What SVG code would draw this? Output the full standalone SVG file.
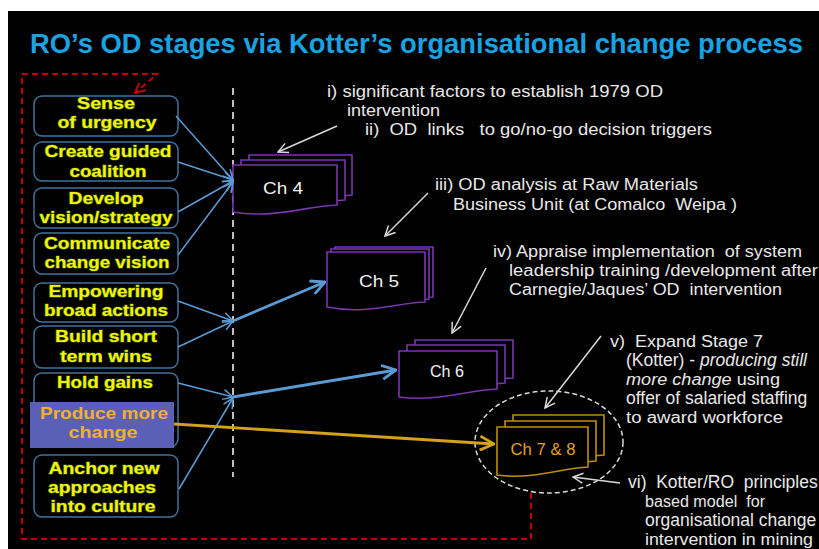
<svg xmlns="http://www.w3.org/2000/svg" width="819" height="549" viewBox="0 0 819 549">
<style>
.stage{fill:#000;stroke:#41719c;stroke-width:1.5}
.yt{font-family:"Liberation Sans",Arial,sans-serif;font-weight:bold;font-size:17px;fill:#f4f400;stroke:#3d5c00;stroke-width:1.2;paint-order:stroke fill;text-anchor:middle}
.ot{font-family:"Liberation Sans",Arial,sans-serif;font-weight:bold;font-size:17px;fill:#f0b030;text-anchor:middle}
.desc{font-family:"Liberation Sans",Arial,sans-serif;font-size:16px;fill:#e8e8e8}
.big{font-size:17.5px}
.doc{fill:#000;stroke:#7a35b0;stroke-width:1.6}
.docg{fill:#000;stroke:#c08f00;stroke-width:1.6}
.cht{font-family:"Liberation Sans",Arial,sans-serif;font-size:16px;fill:#f2f2f2;text-anchor:middle}
.blue{fill:none;stroke:#5b9bd5;stroke-width:1.5}
.bluet{fill:none;stroke:#5b9bd5;stroke-width:2.8}
.gray{fill:none;stroke:#d9d9d9;stroke-width:1.5}
</style>
<defs>
<marker id="ab" viewBox="0 0 12 12" refX="11" refY="6" markerWidth="12" markerHeight="12" markerUnits="userSpaceOnUse" orient="auto"><path d="M1,1 L11,6 L1,11" fill="none" stroke="#5b9bd5" stroke-width="1.5"/></marker>
<marker id="abt" viewBox="0 0 16 16" refX="15" refY="8" markerWidth="16" markerHeight="16" markerUnits="userSpaceOnUse" orient="auto"><path d="M1,1 L15,8 L1,15" fill="none" stroke="#5b9bd5" stroke-width="2.8"/></marker>
<marker id="ag" viewBox="0 0 12 12" refX="11" refY="6" markerWidth="12" markerHeight="12" markerUnits="userSpaceOnUse" orient="auto"><path d="M1,1 L11,6 L1,11" fill="none" stroke="#d9d9d9" stroke-width="1.5"/></marker>
<marker id="ay" viewBox="0 0 16 16" refX="15" refY="8" markerWidth="16" markerHeight="16" markerUnits="userSpaceOnUse" orient="auto"><path d="M1,1 L15,8 L1,15" fill="none" stroke="#d4a21a" stroke-width="2.8"/></marker>
<marker id="ar" viewBox="0 0 12 12" refX="11" refY="6" markerWidth="12" markerHeight="12" markerUnits="userSpaceOnUse" orient="auto"><path d="M1,1 L11,6 L1,11" fill="none" stroke="#c00000" stroke-width="2"/></marker>
</defs>
<rect x="0" y="0" width="819" height="549" fill="#fff"/>
<rect x="8" y="11" width="811" height="538" fill="#000"/>
<text x="30" y="53" font-family="Liberation Sans,Arial,sans-serif" font-weight="bold" font-size="27.5" fill="#19a3e3" textLength="773" lengthAdjust="spacingAndGlyphs">RO’s OD stages via Kotter’s organisational change process</text>

<g id="ellipse78"><ellipse cx="549" cy="442" rx="74" ry="51" fill="none" stroke="#d9d9d9" stroke-width="1.5" stroke-dasharray="5 3"/></g>
<g id="divider"><line x1="233" y1="88" x2="233" y2="477" stroke="#fff" stroke-width="1.5" stroke-dasharray="7 5"/></g>

<g id="stage1"><rect class="stage" x="34" y="96" width="144" height="40" rx="8"/><text class="yt" x="106" y="109" textLength="58" lengthAdjust="spacingAndGlyphs">Sense</text><text class="yt" x="107" y="128" textLength="99" lengthAdjust="spacingAndGlyphs">of urgency</text></g>
<g id="stage2"><rect class="stage" x="34" y="142" width="144" height="39" rx="8"/><text class="yt" x="108" y="157" textLength="127" lengthAdjust="spacingAndGlyphs">Create guided</text><text class="yt" x="108" y="177" textLength="77" lengthAdjust="spacingAndGlyphs">coalition</text></g>
<g id="stage3"><rect class="stage" x="34" y="188" width="144" height="40" rx="8"/><text class="yt" x="106" y="204" textLength="75" lengthAdjust="spacingAndGlyphs">Develop</text><text class="yt" x="106" y="223" textLength="133" lengthAdjust="spacingAndGlyphs">vision/strategy</text></g>
<g id="stage4"><rect class="stage" x="34" y="233" width="144" height="41" rx="8"/><text class="yt" x="107" y="249" textLength="126" lengthAdjust="spacingAndGlyphs">Communicate</text><text class="yt" x="107" y="268" textLength="125" lengthAdjust="spacingAndGlyphs">change vision</text></g>
<g id="stage5"><rect class="stage" x="34" y="283" width="144" height="39" rx="8"/><text class="yt" x="106" y="297" textLength="115" lengthAdjust="spacingAndGlyphs">Empowering</text><text class="yt" x="106" y="316" textLength="124" lengthAdjust="spacingAndGlyphs">broad actions</text></g>
<g id="stage6"><rect class="stage" x="34" y="326" width="144" height="42" rx="8"/><text class="yt" x="106" y="342" textLength="102" lengthAdjust="spacingAndGlyphs">Build short</text><text class="yt" x="106" y="362" textLength="92" lengthAdjust="spacingAndGlyphs">term wins</text></g>
<g id="stage7"><rect class="stage" x="34" y="373" width="144" height="74" rx="8"/><text class="yt" x="105" y="388" textLength="96" lengthAdjust="spacingAndGlyphs">Hold gains</text></g>
<g id="stage7b"><rect x="30" y="402" width="144" height="46" fill="#5b5fb5"/><text class="ot" x="104" y="419" textLength="128" lengthAdjust="spacingAndGlyphs">Produce more</text><text class="ot" x="103" y="438" textLength="69" lengthAdjust="spacingAndGlyphs">change</text></g>
<g id="stage8"><rect class="stage" x="34" y="455" width="144" height="62" rx="8"/><text class="yt" x="104" y="474" textLength="111" lengthAdjust="spacingAndGlyphs">Anchor new</text><text class="yt" x="102" y="493" textLength="108" lengthAdjust="spacingAndGlyphs">approaches</text><text class="yt" x="103" y="512" textLength="105" lengthAdjust="spacingAndGlyphs">into culture</text></g>

<g id="ch4">
<path class="doc" d="M249,155 H352 V195 C322,196 291,209 249,202 Z"/>
<path class="doc" d="M241,160 H345 V200 C314,201 283,214 241,207 Z"/>
<path class="doc" d="M233,165 H337 V205 C306,206 275,219 233,212 Z"/>
<text class="cht" x="283" y="194" textLength="40" lengthAdjust="spacingAndGlyphs">Ch 4</text>
</g>
<g id="ch5">
<path class="doc" d="M335,247 H433 V297 C404,298 374,310 335,302 Z"/>
<path class="doc" d="M331,249 H429 V299 C400,300 370,312 331,304 Z"/>
<path class="doc" d="M327,252 H425 V302 C396,303 366,315 327,307 Z"/>
<text class="cht" x="379" y="287" textLength="40" lengthAdjust="spacingAndGlyphs">Ch 5</text>
</g>
<g id="ch6">
<path class="doc" d="M415,340 H513 V378 C484,379 454,391 415,386 Z"/>
<path class="doc" d="M407,345 H505 V383 C476,384 446,396 407,391 Z"/>
<path class="doc" d="M399,351 H497 V389 C468,390 438,402 399,397 Z"/>
<text class="cht" x="447" y="377" textLength="34" lengthAdjust="spacingAndGlyphs">Ch 6</text>
</g>
<g id="ch78">
<path class="docg" d="M513,415 H604 V455 C577,456 549,468 513,463 Z"/>
<path class="docg" d="M505,421 H596 V461 C569,462 541,474 505,469 Z"/>
<path class="docg" d="M497,427 H588 V467 C561,468 533,480 497,475 Z"/>
<text class="cht" x="543" y="455" style="fill:#e0a020" textLength="65" lengthAdjust="spacingAndGlyphs">Ch 7 &amp; 8</text>
</g>

<g id="connectors">
<line class="blue" x1="176" y1="116" x2="233" y2="180" marker-end="url(#ab)"/>
<line class="blue" x1="178" y1="162" x2="233" y2="180" marker-end="url(#ab)"/>
<line class="blue" x1="178" y1="212" x2="233" y2="181" marker-end="url(#ab)"/>
<line class="blue" x1="178" y1="255" x2="233" y2="182" marker-end="url(#ab)"/>
<line class="blue" x1="178" y1="301" x2="233" y2="321" marker-end="url(#ab)"/>
<line class="blue" x1="178" y1="347" x2="233" y2="321" marker-end="url(#ab)"/>
<line class="bluet" x1="233" y1="321" x2="325" y2="282" marker-end="url(#abt)"/>
<line class="blue" x1="178" y1="383" x2="233" y2="397" marker-end="url(#ab)"/>
<line class="blue" x1="179" y1="489" x2="233" y2="398" marker-end="url(#ab)"/>
<line class="bluet" x1="233" y1="397" x2="396" y2="370" marker-end="url(#abt)"/>
<line x1="174" y1="424" x2="494" y2="444" stroke="#d4a21a" stroke-width="2.8" marker-end="url(#ay)"/>
<line class="gray" x1="337" y1="126" x2="278" y2="152" marker-end="url(#ag)"/>
<line class="gray" x1="428" y1="193" x2="385" y2="236" marker-end="url(#ag)"/>
<line class="gray" x1="486" y1="268" x2="452" y2="333" marker-end="url(#ag)"/>
<line class="gray" x1="601" y1="336" x2="545" y2="408" marker-end="url(#ag)"/>
<line class="gray" x1="620" y1="483" x2="573" y2="477" marker-end="url(#ag)"/>
<path d="M531,493 V539 H22 V74 H157 L135,93" fill="none" stroke="#c00000" stroke-width="2" stroke-dasharray="6 4" marker-end="url(#ar)"/>
</g>

<g id="labels">
<text class="desc" x="327" y="97" textLength="336" lengthAdjust="spacingAndGlyphs">i)  significant factors to establish 1979 OD</text>
<text class="desc" x="347" y="116" textLength="93" lengthAdjust="spacingAndGlyphs">intervention</text>
<text class="desc" x="365" y="135" textLength="347" lengthAdjust="spacingAndGlyphs" xml:space="preserve">ii)  OD  links   to go/no-go decision triggers</text>
<text class="desc" x="435" y="190" textLength="263" lengthAdjust="spacingAndGlyphs">iii) OD analysis at Raw Materials</text>
<text class="desc" x="453" y="210" textLength="284" lengthAdjust="spacingAndGlyphs" xml:space="preserve">Business Unit (at Comalco  Weipa )</text>
<text class="desc" x="493" y="257" textLength="309" lengthAdjust="spacingAndGlyphs" xml:space="preserve">iv) Appraise implementation  of system</text>
<text class="desc" x="509" y="276" textLength="309" lengthAdjust="spacingAndGlyphs">leadership training /development after</text>
<text class="desc" x="509" y="295" textLength="273" lengthAdjust="spacingAndGlyphs" xml:space="preserve">Carnegie/Jaques’ OD  intervention</text>
<text class="desc" x="610" y="347" textLength="153" lengthAdjust="spacingAndGlyphs" xml:space="preserve">v)  Expand Stage 7</text>
<text class="desc big" x="626" y="366">(Kotter) - <tspan font-style="italic">producing still</tspan></text>
<text class="desc" x="626" y="385" textLength="154" lengthAdjust="spacingAndGlyphs"><tspan font-style="italic">more change</tspan> using</text>
<text class="desc big" x="626" y="404">offer of salaried staffing</text>
<text class="desc" x="626" y="423" textLength="157" lengthAdjust="spacingAndGlyphs">to award workforce</text>
<text class="desc big" x="628" y="488" xml:space="preserve">vi)  Kotter/RO  principles</text>
<text class="desc" x="645" y="507" textLength="120" lengthAdjust="spacingAndGlyphs" xml:space="preserve">based model  for</text>
<text class="desc big" x="645" y="526">organisational change</text>
<text class="desc" x="645" y="545" textLength="168" lengthAdjust="spacingAndGlyphs">intervention in mining</text>
</g>
</svg>
